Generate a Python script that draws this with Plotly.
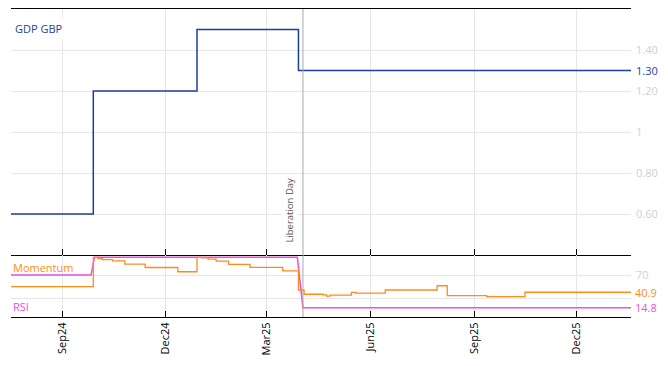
import plotly.graph_objects as go
from plotly.subplots import make_subplots

# ---- data ----
gdp_dates = ["2024-07-17", "2024-09-28", "2024-12-29", "2025-03-29", "2026-01-18"]
gdp_vals = [0.6, 1.2, 1.5, 1.3, 1.3]

mom_dates = ["2024-07-17", "2024-09-28", "2024-10-02", "2024-10-06", "2024-10-15", "2024-10-26",
             "2024-11-13", "2024-12-12", "2024-12-29", "2025-01-02", "2025-01-08", "2025-01-15",
             "2025-01-26", "2025-02-14", "2025-03-15", "2025-03-29", "2025-04-03", "2025-04-20",
             "2025-04-23", "2025-04-26", "2025-05-15", "2025-05-19", "2025-06-14", "2025-07-30",
             "2025-08-08", "2025-09-12", "2025-10-16", "2026-01-18"]
mom_vals = [50.3, 100, 98, 96.3, 94, 88.6,
            82.8, 75.6, 100, 99, 97, 93.6,
            88, 83, 77, 44.7, 37.5, 36.5,
            34.2, 36.2, 40.8, 39.6, 44.7, 51.9,
            35.3, 33.5, 40.9, 40.9]

rsi_dates = ["2024-07-17", "2024-09-26", "2024-09-29", "2025-03-28", "2025-04-02", "2026-01-18"]
rsi_vals = [70, 70, 100, 100, 14.8, 14.8]

gdp_ticks = [0.6, 0.8, 1.0, 1.2, 1.4]
gdp_ticktext = ["0.60", "0.80", "1", "1.20", "1.40"]
osc_ticks = [30, 70]

event_date = "2025-04-02"
event_label = "Liberation Day"

BLUE = "#1c3f9e"
ORANGE = "#ff8c1a"
PINK = "#f24fd4"
GRID = "#e6e6e6"
TICKC = "#cfcfcf"
FONT = "Open Sans"

fig = make_subplots(rows=2, cols=1, shared_xaxes=True, vertical_spacing=0,
                    row_heights=[0.7987, 0.2013])

fig.add_trace(go.Scatter(x=gdp_dates, y=gdp_vals, mode="lines", line=dict(color=BLUE, width=1.5, shape="hv"),
                         hoverinfo="skip"), row=1, col=1)
fig.add_trace(go.Scatter(x=rsi_dates, y=rsi_vals, mode="lines", line=dict(color=PINK, width=1.5),
                         hoverinfo="skip"), row=2, col=1)
fig.add_trace(go.Scatter(x=mom_dates, y=mom_vals, mode="lines", line=dict(color=ORANGE, width=1.3, shape="hv"),
                         hoverinfo="skip"), row=2, col=1)

xcommon = dict(range=["2024-07-17", "2026-01-18"], showgrid=True, gridcolor=GRID, gridwidth=1,
               tick0="2024-09-01", dtick="M3", tickformat="%b%y",
               showline=True, linecolor="black", linewidth=1,
               ticks="inside", ticklen=6, tickcolor="black", tickwidth=1, zeroline=False)
fig.update_xaxes(**xcommon)
fig.update_xaxes(mirror=True, showticklabels=False, row=1, col=1)
fig.update_xaxes(mirror=False, tickangle=-90, tickfont=dict(family=FONT, size=11, color="black"), row=2, col=1)

fig.update_yaxes(side="right", range=[0.4, 1.6], tickvals=gdp_ticks, ticktext=gdp_ticktext,
                 showgrid=True, gridcolor=GRID, zeroline=False, showline=False, ticks="",
                 ticklabelstandoff=4, tickfont=dict(family=FONT, size=11, color=TICKC), row=1, col=1)
fig.update_yaxes(side="right", range=[-1, 104], tickvals=osc_ticks,
                 showgrid=True, gridcolor=GRID, zeroline=False, showline=False, ticks="",
                 ticklabelstandoff=4, tickfont=dict(family=FONT, size=11, color=TICKC), row=2, col=1)

fig.add_shape(type="line", x0=event_date, x1=event_date, xref="x", yref="paper", y0=0, y1=1,
              line=dict(color="#aaaaaa", width=1))

ann = []
ann.append(dict(x=event_date, xref="x", y=0.235, yref="paper", text=event_label, textangle=-90,
                xanchor="right", yanchor="bottom", xshift=-5, showarrow=False, bgcolor="white",
                font=dict(family=FONT, size=9.5, color="#555555")))
ann.append(dict(x=0, xref="paper", y=1.524, yref="y", text="GDP GBP", xanchor="left", yanchor="middle",
                xshift=0, yshift=-4, showarrow=False, bgcolor="white", borderpad=3,
                font=dict(family=FONT, size=11, color=BLUE)))
ann.append(dict(x=0, xref="paper", y=82.3, yref="y2", text="Momentum", xanchor="left", yanchor="middle",
                xshift=0, showarrow=False, font=dict(family=FONT, size=11, color=ORANGE)))
ann.append(dict(x=0, xref="paper", y=16, yref="y2", text="RSI", xanchor="left", yanchor="middle",
                xshift=0, showarrow=False, font=dict(family=FONT, size=11, color=PINK)))
ann.append(dict(x=1, xref="paper", y=gdp_vals[-1], yref="y", text=f"{gdp_vals[-1]:.2f}", xanchor="left",
                yanchor="middle", xshift=3, showarrow=False, bgcolor="white",
                font=dict(family=FONT, size=11, color=BLUE)))
ann.append(dict(x=1, xref="paper", y=mom_vals[-1], yref="y2", text=f"{mom_vals[-1]:.1f}", xanchor="left",
                yanchor="middle", xshift=3, showarrow=False, bgcolor="rgba(255,255,255,0.9)", borderpad=0,
                font=dict(family=FONT, size=11, color=ORANGE)))
ann.append(dict(x=1, xref="paper", y=rsi_vals[-1], yref="y2", text=f"{rsi_vals[-1]:.1f}", xanchor="left",
                yanchor="middle", xshift=3, showarrow=False, bgcolor="white", borderpad=0,
                font=dict(family=FONT, size=11, color=PINK)))

fig.update_layout(width=668, height=366, margin=dict(l=11, r=37, t=9, b=49),
                  plot_bgcolor="white", paper_bgcolor="white", showlegend=False,
                  hovermode=False, annotations=ann, font=dict(family=FONT, size=11))

fig.write_html("out.html")
